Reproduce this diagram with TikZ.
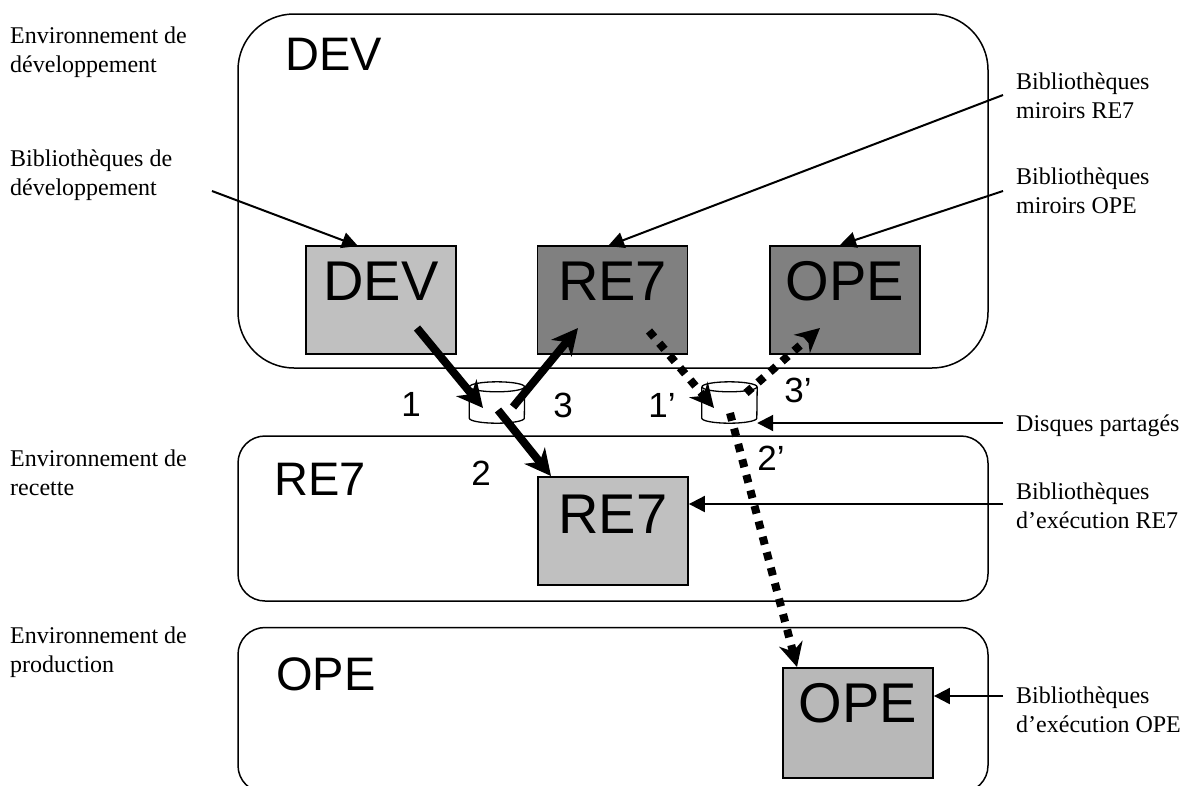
\documentclass[tikz,border=0pt]{standalone}
\usepackage{fontspec}
\setmainfont{Liberation Serif}
\setsansfont{Liberation Sans}
\usepackage{tikz}
\usetikzlibrary{arrows.meta}
\definecolor{light}{HTML}{C0C0C0}
\definecolor{dark}{HTML}{808080}
\definecolor{mid}{HTML}{B8B8B8}
\newcommand{\drawdisk}[1]{
    \draw[diskline] ([yshift=-5pt]#1.north west)--([yshift=5pt]#1.south west) arc[start angle=180, end angle=360, x radius=27.5pt, y radius=5pt]--([yshift=-5pt]#1.north east);
    \draw[diskline] ([yshift=-5pt]#1.north) ellipse [x radius=27.5pt, y radius=5pt];
}

\begin{document}
\begin{tikzpicture}[x=1pt, y=-1pt,
    env/.style = {draw, line width=1.5pt, minimum width=750pt, inner sep=0pt},
    lib/.style = {draw, line width=1.8pt, minimum width=150pt, minimum height=108pt, inner sep=0pt, text height=54pt, text depth=54pt, font=\fontsize{56}{56}\sffamily},
    title/.style = {font=\fontsize{47}{47}\sffamily},
    num/.style = {font=\fontsize{35}{35}\sffamily},
    note/.style = {align=left, anchor=base west, inner sep=0pt, font=\fontsize{24}{29}\selectfont},
    disk/.style = {minimum height=41pt, minimum width=55pt, inner sep=0pt},
    diskline/.style = {line width=1.3pt},
    thin/.style = {-{Stealth[length=16pt,width=16pt,inset=0pt]}, line width=2pt},
    flow/.style = {-{Stealth[length=26pt,width=26pt,inset=8pt]}, line width=8pt},
    dots/.style = {-{Stealth[length=24pt,width=24pt,inset=8pt]}, line width=8pt, dash pattern=on 8pt off 8pt}]
    \clip (0,0) rectangle (1182,785);
    \node[env, rounded corners=56pt, minimum height=354pt] (envdev) at (613,191) {};
    \node[env, rounded corners=27pt, minimum height=165pt] (envre) at (613,518.5) {};
    \node[env, rounded corners=27pt, minimum height=165pt] (envope) at (613,710) {};
    \node[title] (tdev) at (334,54) {DEV};
    \node[title] (tre) at (320,479) {RE7};
    \node[title] (tope) at (326,674) {OPE};
    \node[lib, fill=light] (dev) at (381,300) {DEV};
    \node[lib, fill=dark] (remir) at (612.5,300) {RE7};
    \node[lib, fill=dark] (opemir) at (845,300) {OPE};
    \node[lib, fill=light, text height=56pt, text depth=52pt] (reexe) at (613,531) {RE7};
    \node[lib, fill=mid, minimum height=110pt, text height=54pt, text depth=56pt] (opeexe) at (858,723) {OPE};
    \node[disk] (disk) at (497,402.5) {};
    \node[disk] (disko) at (729.5,402.5) {};
    \drawdisk{disk}
    \drawdisk{disko}
    \node[num] (n1) at (411,404.5) {1};
    \node[num] (n2) at (481,473) {2};
    \node[num] (n3) at (563,405) {3};
    \node[num] (n1o) at (662,405) {1’};
    \node[num] (n2o) at (771,458) {2’};
    \node[num] (n3o) at (798,390) {3’};
    \node[note] (lenvdev) at (10,72) {Environnement de\\développement};
    \node[note] (ldev) at (10,195) {Bibliothèques de\\développement};
    \node[note] (lenvre) at (10,495) {Environnement de\\recette};
    \node[note] (lenvope) at (10,672) {Environnement de\\production};
    \node[note] (lremir) at (1016,118) {Bibliothèques\\miroirs RE7};
    \node[note] (lopemir) at (1016,213) {Bibliothèques\\miroirs OPE};
    \node[note] (ldisk) at (1016,431) {Disques partagés};
    \node[note] (lreexe) at (1016,528) {Bibliothèques\\d’exécution RE7};
    \node[note] (lopeexe) at (1016,732) {Bibliothèques\\d’exécution OPE};
    \coordinate (a1) at (212,191);
    \coordinate (a2) at (1003,95);
    \coordinate (a3) at (1003,191);
    \coordinate (a4) at (1003,423);
    \coordinate (a5) at (1003,504);
    \coordinate (a6) at (1003,696);
    \coordinate (s1) at (417,328);
    \coordinate (e1) at (483,408);
    \coordinate (s3) at (513,407);
    \coordinate (e3) at (578,328);
    \coordinate (s2) at (498,410);
    \coordinate (e2) at (551,476);
    \coordinate (s1o) at (649,331);
    \coordinate (e1o) at (714,408);
    \coordinate (s3o) at (746,393);
    \coordinate (e3o) at (820,328);
    \coordinate (s2o) at (730,413);
    \coordinate (e2o) at (797,667);
    \draw[thin] (a1)--(358,246);
    \draw[thin] (a2)--(608,246);
    \draw[thin] (a3)--(840,245);
    \draw[thin] (a4)--(disko.east |- a4);
    \draw[thin] (a5)--(reexe.east |- a5);
    \draw[thin] (a6)--(opeexe.east |- a6);
    \draw[flow] (s1)--(e1);
    \draw[flow] (s3)--(e3);
    \draw[flow] (s2)--(e2);
    \draw[dots] (s1o)--(e1o);
    \draw[dots] (s3o)--(e3o);
    \draw[dots] (s2o)--(e2o);
\end{tikzpicture}
\end{document}
